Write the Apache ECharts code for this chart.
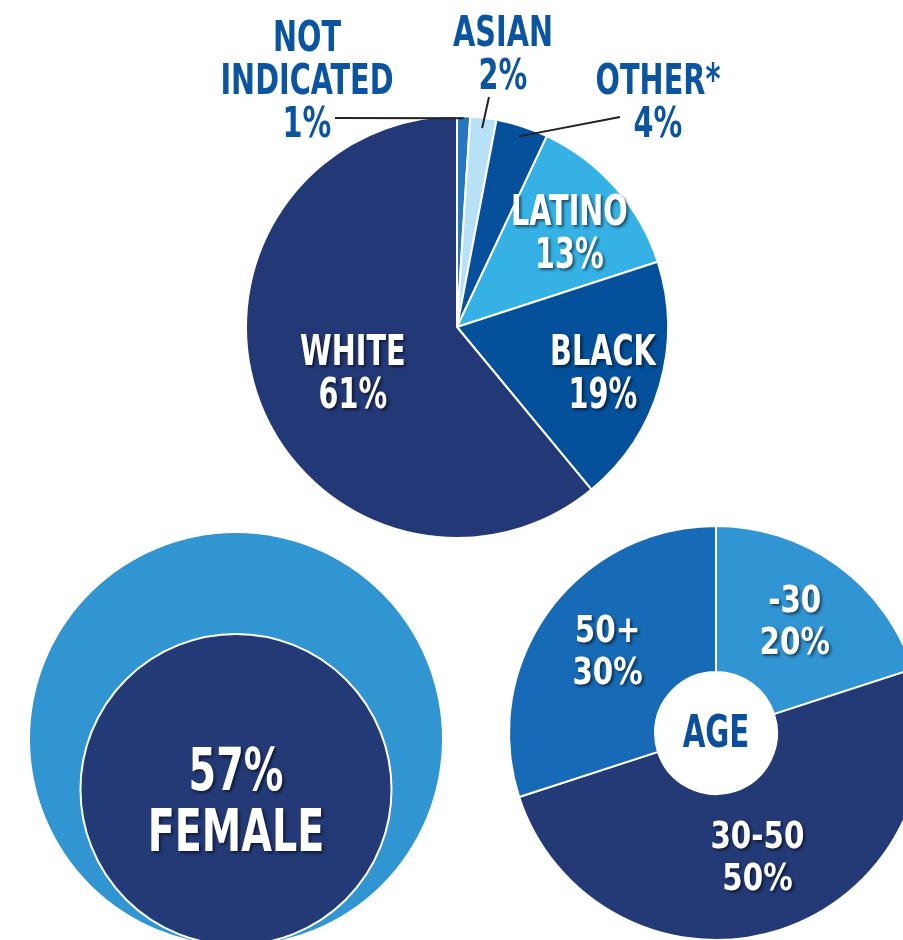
<!DOCTYPE html>
<html>
<head>
<meta charset="utf-8">
<script src="https://cdn.jsdelivr.net/npm/echarts@6/dist/echarts.min.js"></script>
<style>
  html, body { margin: 0; padding: 0; background: #fff; }
  #chart { width: 903px; height: 940px; }
</style>
</head>
<body>
<div id="chart"></div>
<script>
// race / ethnicity (clockwise from 12 o'clock)
var raceNames  = ['NOT\nINDICATED', 'ASIAN', 'OTHER*', 'LATINO', 'BLACK', 'WHITE'];
var raceValues = [1, 2, 4, 13, 19, 61];

// gender
var femaleShare = 57;
var femaleName = 'FEMALE';

// age
var ageNames  = ['-30', '30-50', '50+'];
var ageValues = [20, 50, 30];
var ageTitle = 'AGE';

var FONT = '"DejaVu Sans Condensed", "Liberation Sans Narrow", sans-serif';
var raceColors = ['#2777c0', '#b8e1f6', '#06509b', '#36b1e5', '#04509a', '#233977'];
var ageColors = ['#3194d3', '#233a77', '#176ab5'];

var RACE_C = [457, 327], RACE_R = 211;
var FEM_C = [236, 739], FEM_R = 206;
var AGE_C = [716, 733], AGE_R = [61, 207];

// where each race label sits; outside ones get a leader line to the slice
var raceLabelPos = [
    {outside: true, x: 307, y: 83, anchor: [335, 118], tip: 0.99},
    {outside: true, x: 503, y: 57, anchor: [489, 97], tip: 0.95},
    {outside: true, x: 658, y: 105, anchor: [620, 117], tip: 0.95},
    {f: 0.71, dy: 8},
    {f: 0.72, dy: 6},
    {f: 0.54, dy: 10, dx: 3}
];

function midAngle(values, i) {
    var total = 0, before = 0;
    for (var k = 0; k < values.length; k++) {
        total += values[k];
        if (k < i) before += values[k];
    }
    return (before + values[i] / 2) / total * Math.PI * 2;
}
function polar(c, r, a) {
    return [c[0] + r * Math.sin(a), c[1] - r * Math.cos(a)];
}

function textEl(text, x, y, size, lh, color, scale, shadow) {
    var st = {
        text: text,
        align: 'center',
        verticalAlign: 'middle',
        font: 'bold ' + size + 'px ' + FONT,
        lineHeight: lh,
        fill: color
    };
    if (shadow) {
        st.textShadowColor = 'rgba(0,0,0,0.55)';
        st.textShadowBlur = 3;
        st.textShadowOffsetX = 2;
        st.textShadowOffsetY = 2;
    }
    return {type: 'text', x: x, y: y, scaleX: scale, silent: true, z: 20, style: st};
}

var graphics = [];

// race labels + leader lines
raceNames.forEach(function (n, i) {
    var pos = raceLabelPos[i];
    var a = midAngle(raceValues, i);
    var txt = n + '\n' + raceValues[i] + '%';
    if (pos.outside) {
        graphics.push(textEl(txt, pos.x, pos.y, 42, 43, '#0b55a0', 0.76, false));
        graphics.push({
            type: 'polyline', silent: true, z: 15,
            shape: {points: [pos.anchor, polar(RACE_C, pos.tip * RACE_R, a)]},
            style: {stroke: '#222', lineWidth: 2, fill: null}
        });
    } else {
        var p = polar(RACE_C, pos.f * RACE_R, a);
        graphics.push(textEl(txt, p[0] + (pos.dx || 0), p[1] + pos.dy, 42, 43, '#fff', 0.76, true));
    }
});

// female label
var innerR = FEM_R * Math.sqrt(femaleShare / 100);
var femCy = FEM_C[1] + FEM_R - innerR;
graphics.push(textEl(femaleShare + '%\n' + femaleName, FEM_C[0], femCy + 16, 58, 61, '#fff', 0.76, true));

// age labels
ageNames.forEach(function (n, i) {
    var p = polar(AGE_C, (AGE_R[0] + AGE_R[1]) / 2, midAngle(ageValues, i));
    graphics.push(textEl(n + '\n' + ageValues[i] + '%', p[0], p[1] - 1, 38, 42, '#fff', 0.86, true));
});
graphics.push(textEl(ageTitle, AGE_C[0], AGE_C[1] + 3, 44, 44, '#0b4f9a', 0.74, false));

var chart = echarts.init(document.getElementById('chart'));
chart.setOption({
    animation: false,
    backgroundColor: '#fff',
    graphic: graphics,
    series: [
        {
            type: 'pie',
            silent: true,
            center: RACE_C,
            radius: RACE_R,
            startAngle: 90,
            itemStyle: {borderColor: '#fff', borderWidth: 2},
            label: {show: false},
            labelLine: {show: false},
            data: raceNames.map(function (n, i) {
                return {name: n, value: raceValues[i], itemStyle: {color: raceColors[i]}};
            })
        },
        {
            type: 'pie',
            silent: true,
            center: FEM_C,
            radius: FEM_R,
            label: {show: false},
            labelLine: {show: false},
            data: [{name: 'ALL', value: 100, itemStyle: {color: '#3195d2'}}]
        },
        {
            type: 'pie',
            silent: true,
            center: [FEM_C[0], femCy],
            radius: innerR,
            itemStyle: {borderColor: '#fff', borderWidth: 2},
            label: {show: false},
            labelLine: {show: false},
            data: [{name: femaleName, value: femaleShare, itemStyle: {color: '#233a77'}}]
        },
        {
            type: 'pie',
            silent: true,
            center: AGE_C,
            radius: AGE_R,
            startAngle: 90,
            itemStyle: {borderColor: '#fff', borderWidth: 2},
            label: {show: false},
            labelLine: {show: false},
            data: ageNames.map(function (n, i) {
                return {name: n, value: ageValues[i], itemStyle: {color: ageColors[i]}};
            })
        }
    ]
});
</script>
</body>
</html>
